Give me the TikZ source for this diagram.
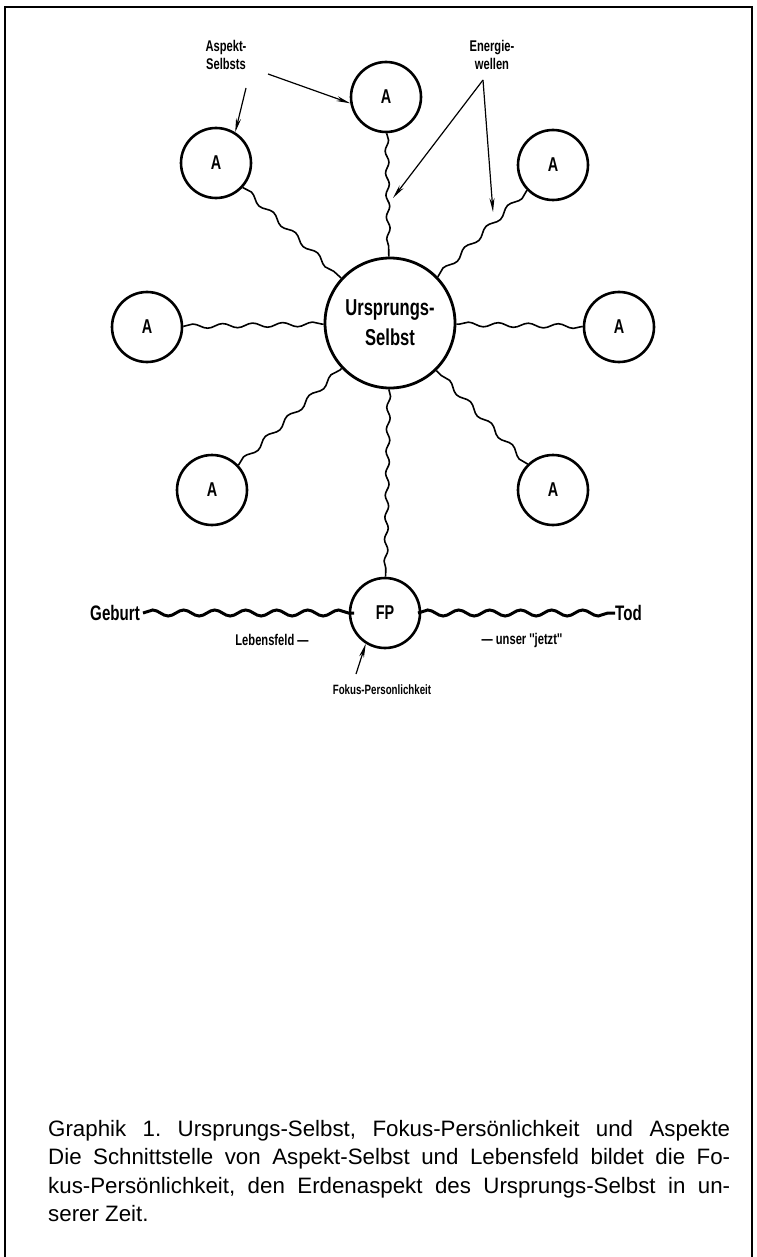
\documentclass[tikz,border=0pt]{standalone}
\usepackage{fontspec}
\setmainfont{Liberation Sans}
\newfontfamily\cond[FakeStretch=0.72]{Liberation Sans Bold}
\usetikzlibrary{decorations.pathmorphing,arrows.meta}
\frenchspacing
\begin{document}
\begin{tikzpicture}[x=1pt,y=-1pt,
  acirc/.style={circle,draw,line width=2.6pt,minimum size=70pt,inner sep=0pt,font=\cond\fontsize{20}{20}\selectfont},
  wave/.style={line width=1.6pt,decorate,decoration={snake,segment length=30pt,amplitude=2.6pt}},
  bigwave/.style={line width=3pt,decorate,decoration={snake,segment length=31pt,amplitude=3pt}},
  lbl/.style={font=\cond\fontsize{15.5}{18}\selectfont,align=center,inner sep=0pt},
  pointer/.style={line width=1.2pt,-{Stealth[length=14pt,width=5pt]}}]
\useasboundingbox (0,0) rectangle (756,1257);
\draw[line width=2.5pt] (5,1257) -- (5,7) -- (752,7) -- (752,1257);

% central node
\node[circle,draw,line width=2.8pt,minimum size=130pt,inner sep=0pt,align=center,
      font=\cond\fontsize{23}{30}\selectfont] (us) at (390,323) {Ursprungs-\\Selbst};
% aspects
\node[acirc] (at)  at (386,97)  {A};
\node[acirc] (aul) at (216,163) {A};
\node[acirc] (aur) at (553,165) {A};
\node[acirc] (al)  at (147,327) {A};
\node[acirc] (ar)  at (619,327) {A};
\node[acirc] (all) at (212,490) {A};
\node[acirc] (alr) at (553,490) {A};
\node[acirc] (fp)  at (385,613) {FP};

% energy waves
\draw[wave,decoration={segment length=22pt,amplitude=1.8pt}] (at) -- (us);
\draw[wave] (aul) -- (us);
\draw[wave] (aur) -- (us);
\draw[wave,decoration={segment length=30pt,amplitude=2.2pt}] (al) -- (us);
\draw[wave,decoration={segment length=30pt,amplitude=2.2pt}] (ar) -- (us);
\draw[wave] (all) -- (us);
\draw[wave] (alr) -- (us);
\draw[wave,decoration={segment length=22pt,amplitude=1.8pt}] (us) -- (fp);

% life field
\node[font=\cond\fontsize{21}{21}\selectfont,anchor=east,inner sep=0pt] (geb) at (140,613) {Geburt};
\node[font=\cond\fontsize{21}{21}\selectfont,anchor=west,inner sep=0pt] (tod) at (615,613) {Tod};
\coordinate (fpw) at (354,613);
\coordinate (fpe) at (418,613);
\draw[bigwave] (geb.east) ++(3,0) -- (fpw);
\draw[bigwave] (fpe) -- (tod.west);
\node[lbl] (leb) at (272,640) {Lebensfeld —};
\node[lbl] (jetzt) at (522,640) {— unser ''jetzt''};

% labels and pointers
\node[lbl] (asp) at (226,55) {Aspekt-\\Selbsts};
\draw[pointer] (268,74) -- (at.190);
\draw[pointer] (246,88) -- (aul.58);

\node[lbl] (en) at (492,55) {Energie-\\wellen};
\coordinate (enp) at (483,80);
\coordinate (ew1) at (393,198);
\coordinate (ew2) at (493,212);
\draw[pointer] (enp) -- (ew1);
\draw[pointer] (enp) -- (ew2);

\node[lbl,font=\cond\fontsize{13.5}{16}\selectfont] (fok) at (382,690) {Fokus-Personlichkeit};
\draw[pointer] (356,674) -- (fp.238);

% caption
\node[anchor=north west,inner sep=0pt,align=left,font=\fontsize{22.3}{28.5}\selectfont] (cap) at (48,1120)
 {\makebox[682pt][s]{Graphik 1. Ursprungs-Selbst, Fokus-Persönlichkeit und Aspekte}\\
  \makebox[682pt][s]{Die Schnittstelle von Aspekt-Selbst und Lebensfeld bildet die Fo-}\\
  \makebox[682pt][s]{kus-Persönlichkeit, den Erdenaspekt des Ursprungs-Selbst in un-}\\
  serer Zeit.};
\end{tikzpicture}
\end{document}
